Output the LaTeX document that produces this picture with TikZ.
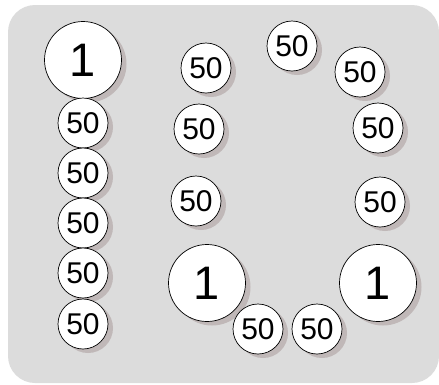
\documentclass[tikz,border=0pt]{standalone}
\usepackage{fontspec}
\setmainfont{Liberation Sans}
\usetikzlibrary{shadows}
\definecolor{panel}{RGB}{220,220,220}
\definecolor{shade}{RGB}{192,184,184}
\tikzset{coin/.style={circle, draw, fill=white, line width=0.7pt, minimum size=50pt, inner sep=0pt,
  font=\fontsize{30}{30}\selectfont,
  drop shadow={shadow xshift=5pt, shadow yshift=-4pt, fill=shade, opacity=1}},
  bigcoin/.style={coin, minimum size=77pt, font=\fontsize{47}{47}\selectfont}}

\begin{document}
\begin{tikzpicture}[x=1pt,y=-1pt]
\useasboundingbox (0,0) rectangle (439,384);
\fill[panel, rounded corners=27pt] (8,5) rectangle (439,383);
% big coins
\node[bigcoin] (b0) at (83,60) {1};
\node[bigcoin] (b1) at (207,283) {1};
\node[bigcoin] (b2) at (378,283) {1};
% stack on the left
\foreach \i/\y in {1/123,2/173,3/223,4/273,5/324}{
\node[coin] (s\i) at (83,\y) {50};
}
% ring
\foreach \i/\x/\y in {1/196/201,2/199/129,3/206/68,4/292/46,5/360/72,6/378/128,7/380/202,8/258/329,9/317/329}{
\node[coin] (r\i) at (\x,\y) {50};
}
\end{tikzpicture}
\end{document}
